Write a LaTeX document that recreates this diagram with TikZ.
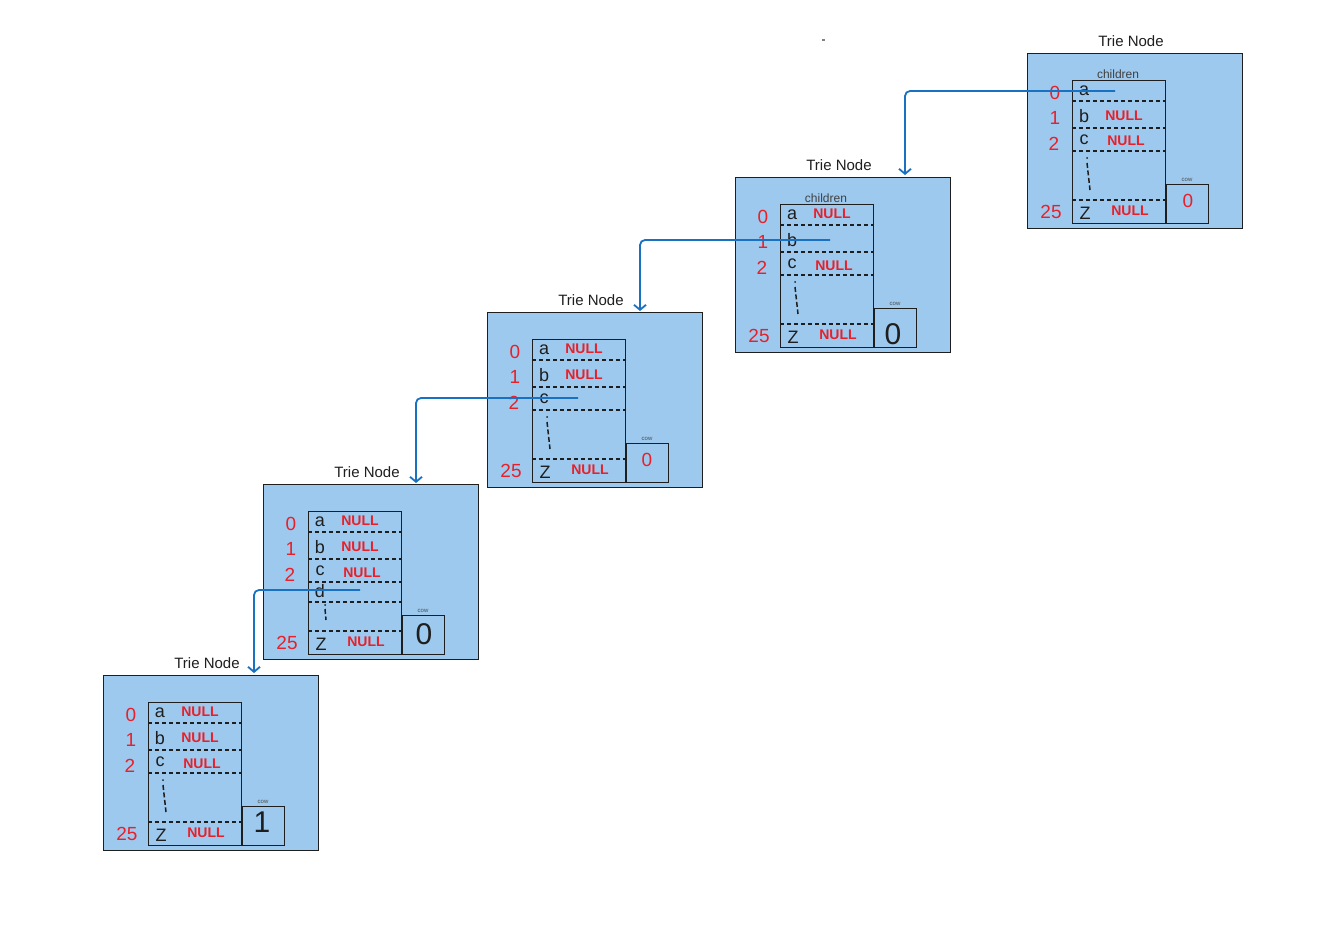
\documentclass[tikz,border=0pt]{standalone}
\usepackage{fontspec}
\setmainfont{Liberation Sans}
\usetikzlibrary{arrows.meta}
\definecolor{tfill}{HTML}{9DC9EE}
\definecolor{tred}{HTML}{E8202A}
\definecolor{tblue}{HTML}{1971C2}
\definecolor{tink}{HTML}{1E1E1E}
\tikzset{
  outerbox/.style={draw=tink, line width=1.2pt, fill=tfill, minimum width=215pt, minimum height=175pt, inner sep=0pt, anchor=north west},
  kidsbox/.style={draw=tink, line width=1pt, minimum width=93pt, minimum height=143pt, inner sep=0pt, anchor=north west},
  cowbox/.style={draw=tink, line width=1pt, minimum width=42pt, minimum height=39pt, inner sep=0pt, anchor=north west},
  title/.style={text=tink, font=\fontsize{15}{15}\selectfont, inner sep=0pt},
  kidlbl/.style={text=tink!85, font=\fontsize{12}{12}\selectfont, inner sep=0pt},
  cowlbl/.style={text=tink!80, font=\fontsize{6}{6}\selectfont, inner sep=0pt},
  idx/.style={text=tred, font=\fontsize{19}{19}\selectfont, inner sep=0pt},
  letter/.style={text=tink, font=\fontsize{18}{18}\selectfont, inner sep=0pt},
  nul/.style={text=tred, font=\bfseries\fontsize{14}{14}\selectfont, inner sep=0pt},
  bigval/.style={text=tink, font=\fontsize{30}{30}\selectfont, inner sep=0pt},
  redval/.style={text=tred, font=\fontsize{19}{19}\selectfont, inner sep=0pt},
  dashline/.style={draw=tink, dash pattern=on 4pt off 3pt, line width=1.2pt},
  vdots/.style={draw=tink, dash pattern=on 5pt off 2.5pt, line width=1.5pt},
  conn/.style={draw=tblue, line width=1.8pt, -{Straight Barb[length=5pt,width=12pt]}, rounded corners=5pt},
}
% frame of one trie node: name, extra content
\newcommand\trieframe[2]{%
  \node[outerbox] (#1) at (0,0) {};
  \node[title] (#1-t) at (104,-12) {Trie Node};
  \node[kidsbox] (#1-k) at (45,27) {};
  \node[cowbox] (#1-c) at (139,131) {};
  \node[cowlbl] (#1-cl) at (160,127) {cow};
  \node[idx] (#1-i0) at (28,40) {0};
  \node[idx] (#1-i1) at (28,65) {1};
  \node[idx] (#1-i2) at (27,91) {2};
  \node[idx] (#1-i25) at (24,159) {25};
  \node[letter] (#1-la) at (57,38) {a};
  \node[letter] (#1-lb) at (57,63) {b};
  \node[letter] (#1-lc) at (57,87) {c};
  \node[letter] (#1-lz) at (58,160) {Z};
  \node[nul] (#1-nz) at (103,158) {NULL};
  \draw[dashline] (45,48) -- (138,48);
  \draw[dashline] (45,75) -- (138,75);
  \draw[dashline] (45,98) -- (138,98);
  \draw[dashline] (45,147) -- (138,147);
  #2
}
\begin{document}
\begin{tikzpicture}[x=1pt,y=-1pt]
\useasboundingbox (0,0) rectangle (1322,933);
\fill[gray] (822,39) rectangle (824.5,41.5);

% node 1
\begin{scope}[shift={(1027,53)}]
\trieframe{n1}{%
  \node[kidlbl] (n1-kl) at (91,21) {children};
  \node[nul] (n1-nb) at (97,63) {NULL};
  \node[nul] (n1-nc) at (99,88) {NULL};
  \node[redval] (n1-v) at (161,148) {0};
  \fill[tink] (60,105) circle (1pt);
  \draw[vdots] (60,110) -- (63,137);
  \coordinate (p1) at (88,38);
}
\end{scope}

% node 2
\begin{scope}[shift={(735,177)}]
\trieframe{n2}{%
  \node[kidlbl] (n2-kl) at (91,21) {children};
  \node[nul] (n2-na) at (97,37) {NULL};
  \node[nul] (n2-nc) at (99,89) {NULL};
  \node[bigval] (n2-v) at (158,157) {0};
  \fill[tink] (60,105) circle (1pt);
  \draw[vdots] (60,110) -- (63,137);
  \coordinate (e2) at (170,-2);
  \coordinate (p2) at (95,63);
}
\end{scope}

% node 3
\begin{scope}[shift={(487,312)}]
\trieframe{n3}{%
  \node[nul] (n3-na) at (97,37) {NULL};
  \node[nul] (n3-nb) at (97,63) {NULL};
  \node[redval] (n3-v) at (160,148) {0};
  \fill[tink] (60,105) circle (1pt);
  \draw[vdots] (60,110) -- (63,137);
  \coordinate (e3) at (153,-1);
  \coordinate (p3) at (91,86);
}
\end{scope}

% node 4
\begin{scope}[shift={(263,484)}]
\trieframe{n4}{%
  \node[nul] (n4-na) at (97,37) {NULL};
  \node[nul] (n4-nb) at (97,63) {NULL};
  \node[nul] (n4-nc) at (99,89) {NULL};
  \node[letter] (n4-ld) at (57,107) {d};
  \draw[dashline] (45,118) -- (138,118);
  \node[bigval] (n4-v) at (161,150) {0};
  \fill[tink] (62,121) circle (1pt);
  \draw[vdots] (62,125) -- (63,136);
  \coordinate (e4) at (153,-1);
  \coordinate (p4) at (97,106);
}
\end{scope}

% node 5
\begin{scope}[shift={(103,675)}]
\trieframe{n5}{%
  \node[nul] (n5-na) at (97,37) {NULL};
  \node[nul] (n5-nb) at (97,63) {NULL};
  \node[nul] (n5-nc) at (99,89) {NULL};
  \node[bigval] (n5-v) at (159,147) {1};
  \fill[tink] (60,105) circle (1pt);
  \draw[vdots] (60,110) -- (63,137);
  \coordinate (e5) at (151,-2);
}
\end{scope}

% connectors
\draw[conn] (p1) -| (e2);
\draw[conn] (p2) -| (e3);
\draw[conn] (p3) -| (e4);
\draw[conn] (p4) -| (e5);
\end{tikzpicture}
\end{document}
